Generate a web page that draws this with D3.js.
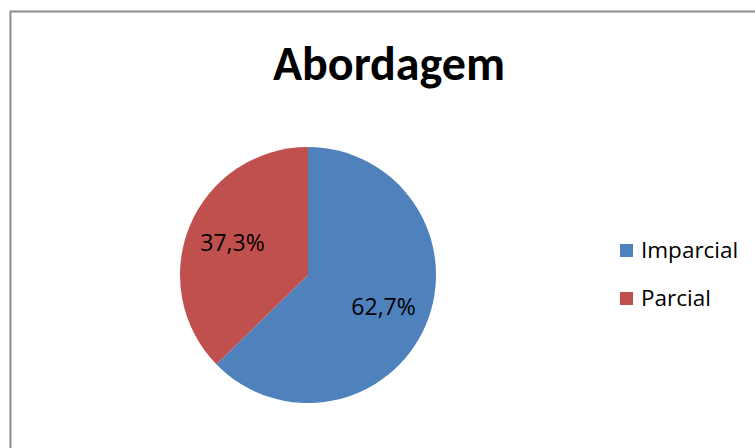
<!DOCTYPE html>
<html>
<head>
<meta charset="utf-8">
<script src="https://cdn.jsdelivr.net/npm/d3@7"></script>
<style>
  body { margin: 0; background: #fff; }
  svg { display: block; }
</style>
</head>
<body>
<div id="vis"></div>
<script>
// chart data
var categories = ["Imparcial", "Parcial"];
var values = [62.7, 37.3];
var valueLabels = ["62,7%", "37,3%"];
var colors = ["#4F81BD", "#C0504D"];

var width = 755, height = 448;

var svg = d3.select("#vis")
  .append("svg")
    .attr("width", width)
    .attr("height", height)
    .style("font-family", "'Open Sans', sans-serif");

// chart frame
svg.append("rect")
  .attr("x", 10.5)
  .attr("y", 11.5)
  .attr("width", 800)
  .attr("height", 500)
  .attr("fill", "#fff")
  .attr("stroke", "#8c8c8c")
  .attr("stroke-width", 2);

// title
svg.append("text")
  .attr("x", 389)
  .attr("y", 80)
  .attr("text-anchor", "middle")
  .style("font-family", "Calibri, Carlito, 'Open Sans', sans-serif")
  .style("font-size", "48px")
  .style("font-weight", "bold")
  .attr("fill", "#000")
  .text("Abordagem");

var cx = 308, cy = 275, radius = 128;

var pie = d3.pie().sort(null).value(d => d);
var arcs = pie(values);

var arc = d3.arc().innerRadius(0).outerRadius(radius);
var labelArc = d3.arc().innerRadius(82).outerRadius(82);

var g = svg.append("g").attr("transform", "translate(" + cx + "," + cy + ")");

g.selectAll("path")
  .data(arcs)
  .enter()
  .append("path")
    .attr("d", arc)
    .attr("fill", (d, i) => colors[i]);

g.selectAll("text")
  .data(arcs)
  .enter()
  .append("text")
    .attr("transform", d => "translate(" + labelArc.centroid(d) + ")")
    .attr("text-anchor", "middle")
    .attr("dy", "0.35em")
    .style("font-size", "23px")
    .attr("fill", "#000")
    .text((d, i) => valueLabels[i]);

// legend
var legend = svg.append("g").attr("transform", "translate(620,0)");
var item = legend.selectAll("g")
  .data(categories)
  .enter()
  .append("g")
    .attr("transform", (d, i) => "translate(0," + (250 + i * 48) + ")");

item.append("rect")
  .attr("x", 0)
  .attr("y", -6)
  .attr("width", 13)
  .attr("height", 13)
  .attr("fill", (d, i) => colors[i]);

item.append("text")
  .attr("x", 21)
  .attr("dy", "0.35em")
  .style("font-size", "22.5px")
  .attr("fill", "#000")
  .text(d => d);
</script>
</body>
</html>
